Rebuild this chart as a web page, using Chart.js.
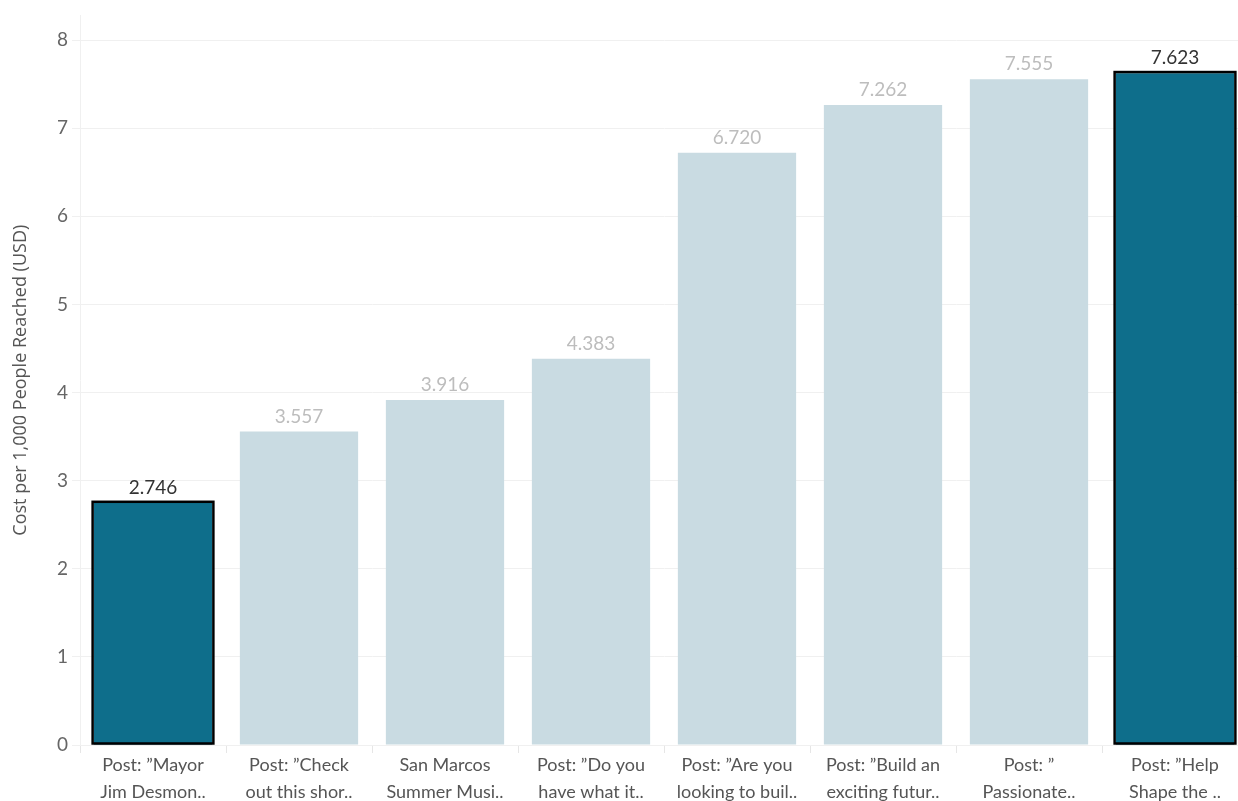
<!DOCTYPE html>
<html>
<head>
<meta charset="utf-8">
<script src="https://cdn.jsdelivr.net/npm/chart.js@4"></script>
<style>
  html, body { margin: 0; padding: 0; background: #fff; overflow: hidden; }
  #wrap { width: 1248px; height: 801px; }
</style>
</head>
<body>
<div id="wrap"><canvas id="c"></canvas></div>
<script>
const categories = [
  ['Post: \u201dMayor', 'Jim Desmon..'],
  ['Post: \u201dCheck', 'out this shor..'],
  ['San Marcos', 'Summer Musi..'],
  ['Post: \u201dDo you', 'have what it..'],
  ['Post: \u201dAre you', 'looking to buil..'],
  ['Post: \u201dBuild an', 'exciting futur..'],
  ['Post: \u201d', 'Passionate..'],
  ['Post: \u201dHelp', 'Shape the ..']
];
const costPer1000 = [2.746, 3.557, 3.916, 4.383, 6.720, 7.262, 7.555, 7.623];
const highlighted = [true, false, false, false, false, false, false, true];
const yTicks = [0, 1, 2, 3, 4, 5, 6, 7, 8];

const DARK = '#0e6e8b';
const LIGHT = '#c9dbe2';
const FONT = 'Lato, "Open Sans", sans-serif';

const valueLabels = {
  id: 'valueLabels',
  afterDatasetsDraw(chart) {
    const ctx = chart.ctx;
    const meta = chart.getDatasetMeta(0);
    ctx.save();
    // outer black borders for highlighted bars
    meta.data.forEach((bar, i) => {
      if (!highlighted[i]) return;
      const p = bar.getProps(['x', 'y', 'base', 'width'], true);
      const lw = 2.5;
      ctx.lineWidth = lw;
      ctx.strokeStyle = '#000000';
      const l = p.x - p.width / 2 - lw / 2;
      const r = p.x + p.width / 2 + lw / 2;
      const t = p.y - lw / 2;
      const b = p.base - 1;
      ctx.strokeRect(l, t, r - l, b - t);
    });
    ctx.font = '19px ' + FONT;
    ctx.textAlign = 'center';
    ctx.textBaseline = 'alphabetic';
    meta.data.forEach((bar, i) => {
      ctx.fillStyle = highlighted[i] ? '#333333' : '#bdbdbd';
      ctx.fillText(costPer1000[i].toFixed(3), bar.x, bar.y - 9);
    });
    ctx.restore();
  }
};

new Chart(document.getElementById('c'), {
  type: 'bar',
  data: {
    labels: categories,
    datasets: [{
      data: costPer1000,
      backgroundColor: highlighted.map(h => h ? DARK : LIGHT),
      borderWidth: 0,
      categoryPercentage: 1.0,
      barPercentage: 0.81
    }]
  },
  options: {
    responsive: true,
    maintainAspectRatio: false,
    animation: false,
    layout: { padding: { top: 12, right: 0, left: 0, bottom: 0 } },
    plugins: {
      legend: { display: false },
      tooltip: { enabled: false }
    },
    scales: {
      x: {
        offset: true,
        grid: {
          offset: true,
          drawOnChartArea: false,
          tickLength: 8,
          color: '#e6e6e6'
        },
        border: { display: false },
        ticks: {
          maxRotation: 0,
          autoSkip: false,
          font: { family: FONT, size: 18, lineHeight: 1.5 },
          color: '#555555',
          padding: -1
        },
        afterFit(scale) { scale.height = 56; }
      },
      y: {
        min: 0,
        max: 8.28,
        afterBuildTicks(scale) { scale.ticks = yTicks.map(v => ({ value: v })); },
        grid: { color: '#f0f0f0', tickLength: 8 },
        border: { display: true, color: '#f0f0f0' },
        ticks: {
          font: { family: FONT, size: 19 },
          color: '#666666',
          padding: 4
        },
        title: {
          display: true,
          text: 'Cost per 1,000 People Reached (USD)',
          font: { family: '"Open Sans", sans-serif', size: 18 },
          color: '#555555',
          padding: { top: 10, bottom: 0 }
        },
        afterFit(scale) { scale.width = 80; }
      }
    }
  },
  plugins: [valueLabels]
});
</script>
</body>
</html>
